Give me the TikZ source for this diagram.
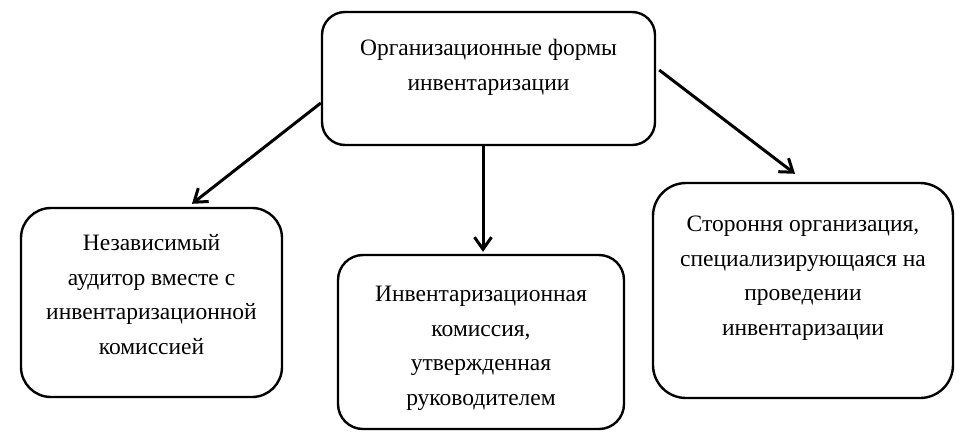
\documentclass[tikz,border=0pt]{standalone}
\usepackage{fontspec}
\setmainfont{Liberation Serif}
\usetikzlibrary{arrows.meta}
\begin{document}
\begin{tikzpicture}[x=1pt,y=-1pt,
  box/.style={draw, line width=2.4pt, rounded corners=#1, inner sep=0pt},
  lbl/.style={align=center, font=\fontsize{23.5}{34.5}\selectfont, anchor=base, inner sep=0pt},
  conn/.style={line width=3pt, -{Straight Barb[length=12pt,width=17pt,line width=3pt]}}]
\useasboundingbox (0,0) rectangle (961,440);
\node[box=23pt, minimum width=333pt, minimum height=133pt] (ntop) at (488.5,78.5) {};
\node[box=30pt, minimum width=261pt, minimum height=189pt] (nleft) at (151.5,302.5) {};
\node[box=25pt, minimum width=286pt, minimum height=174pt] (nmid) at (481,342) {};
\node[box=33pt, minimum width=300pt, minimum height=215pt] (nright) at (803,290.5) {};
\node[lbl] (ttop) at (488.5,90) {Организационные формы\\инвентаризации};
\node[lbl] (tleft) at (151.5,354) {Независимый\\аудитор вместе с\\инвентаризационной\\комиссией};
\node[lbl] (tmid) at (481,405) {Инвентаризационная\\комиссия,\\утвержденная\\руководителем};
\node[lbl] (tright) at (803,335) {Стороння организация,\\специализирующаяся на\\проведении\\инвентаризации};
\draw[conn] ([yshift=-24.5pt]ntop.west) -- ([xshift=40.5pt,yshift=3pt]nleft.north);
\draw[conn] ([xshift=-5.5pt]ntop.south) -- ([xshift=2pt,yshift=2pt]nmid.north);
\draw[conn] ([xshift=3pt,yshift=8.5pt]ntop.east) -- ([xshift=-8pt,yshift=8pt]nright.north);
\end{tikzpicture}
\end{document}
